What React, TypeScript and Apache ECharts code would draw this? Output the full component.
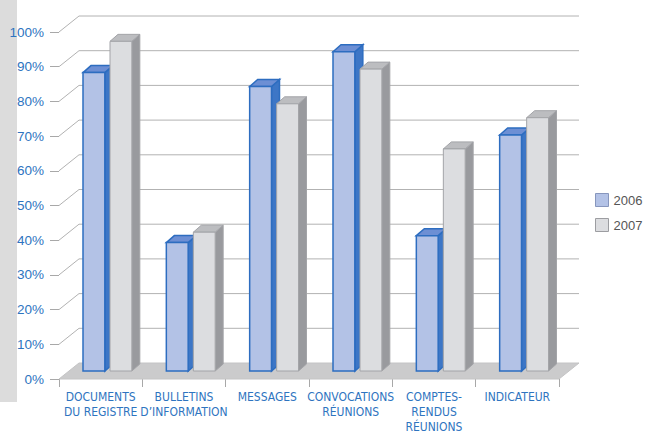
import React, { useEffect, useRef } from "react";
import * as echarts from "echarts";

const categories = [
  "DOCUMENTS\nDU REGISTRE",
  "BULLETINS\nD’INFORMATION",
  "MESSAGES",
  "CONVOCATIONS\nRÉUNIONS",
  "COMPTES-\nRENDUS\nRÉUNIONS",
  "INDICATEUR",
];
const values2006 = [86, 37, 82, 92, 39, 68];
const values2007 = [95, 40, 77, 87, 64, 73];
const yTicks = [0, 10, 20, 30, 40, 50, 60, 70, 80, 90, 100];

const BLUE_TEXT = "#2e74c0";

type BarColors = { front: string; top: string; side: string; stroke: string; lw: number };
const c2006: BarColors = { front: "#b3c2e6", top: "#6d8fd4", side: "#3d76c6", stroke: "#2d6dc0", lw: 1.5 };
const c2007: BarColors = { front: "#dcdde0", top: "#bcbdc0", side: "#999a9e", stroke: "#a3a4a8", lw: 1 };

function makeBar(name: string, data: number[], idx: number, col: BarColors) {
  return {
    type: "custom",
    name,
    z: 3 + idx,
    clip: false,
    itemStyle: { color: col.front, borderColor: col.stroke, borderWidth: 1 },
    encode: { x: 0, y: 1 },
    data: data.map((v, i) => [i, v]),
    renderItem: (params: any, api: any) => {
      const i = api.value(0);
      const v = api.value(1);
      const p0 = api.coord([i, 0]);
      const p1 = api.coord([i, v]);
      const band = api.size([1, 0])[0];
      const w = band * 0.262;
      const cx = p0[0];
      const L = cx + (idx === 0 ? -band * 0.212 : band * 0.112);
      const R = L + w;
      const B = p0[1] - 8;
      const T = p1[1] - 8;
      const dx = 8;
      const dy = -7;
      return {
        type: "group",
        children: [
          {
            type: "polygon",
            shape: { points: [[R, T], [R + dx, T + dy], [R + dx, B + dy], [R, B]] },
            style: { fill: col.side, stroke: col.stroke, lineWidth: col.lw },
          },
          {
            type: "polygon",
            shape: { points: [[L, T], [L + dx, T + dy], [R + dx, T + dy], [R, T]] },
            style: { fill: col.top, stroke: col.stroke, lineWidth: col.lw },
          },
          {
            type: "rect",
            shape: { x: L, y: T, width: w, height: B - T },
            style: { fill: col.front, stroke: col.stroke, lineWidth: col.lw },
          },
        ],
      };
    },
  };
}

export default function App() {
  const ref = useRef<HTMLDivElement>(null);
  useEffect(() => {
    if (!ref.current) return;
    const chart = echarts.init(ref.current, undefined, { renderer: "svg" });
    const option: any = {
      animation: false,
      backgroundColor: "#ffffff",
      grid: { left: 59, top: 32, width: 500, height: 350 },
      graphic: [
        {
          type: "rect",
          left: 0,
          top: 0,
          z: -10,
          shape: { width: 17, height: 402 },
          style: { fill: "#dcdcdc" },
        },
      ],
      legend: {
        orient: "vertical",
        left: 595,
        top: 193,
        padding: 0,
        itemWidth: 13,
        itemHeight: 13,
        itemGap: 11,
        textStyle: { color: "#555555", fontSize: 13, fontFamily: "Liberation Sans, Arial, sans-serif" },
        data: [
          { name: "2006", icon: "rect", itemStyle: { color: "#b3c2e6", borderColor: "#8796bd", borderWidth: 1 } },
          { name: "2007", icon: "rect", itemStyle: { color: "#dcdde0", borderColor: "#9c9da1", borderWidth: 1 } },
        ],
      },
      xAxis: {
        type: "category",
        data: categories,
        boundaryGap: true,
        axisLine: { show: false },
        axisTick: { show: true, length: 8, lineStyle: { color: "#a8a8a8" } },
        axisLabel: {
          interval: 0,
          margin: 10,
          color: BLUE_TEXT,
          fontSize: 12,
          lineHeight: 15,
          fontFamily: "DejaVu Sans Condensed, sans-serif",
        },
        splitLine: { show: false },
      },
      yAxis: {
        type: "value",
        min: 0,
        max: 100,
        interval: 10,
        axisLine: { show: false },
        axisTick: { show: true, length: 9, lineStyle: { color: "#a8a8a8" } },
        splitLine: { show: false },
        axisLabel: {
          formatter: "{value}%",
          color: BLUE_TEXT,
          fontSize: 13.5,
          margin: 15,
          fontFamily: "Liberation Sans, Arial, sans-serif",
        },
      },
      series: [
        {
          type: "custom",
          name: "grid3d",
          z: 1,
          clip: false,
          silent: true,
          encode: { x: 0, y: 1 },
          data: yTicks.map((v) => [0, v]),
          renderItem: (params: any, api: any) => {
            const cs = params.coordSys;
            const v = api.value(1);
            const y = api.coord([0, v])[1];
            const x0 = cs.x;
            const x1 = cs.x + cs.width;
            const dx = 20;
            const dy = -16;
            if (v === 0) {
              return {
                type: "polygon",
                shape: { points: [[x0, y], [x0 + dx, y + dy], [x1 + dx, y + dy], [x1, y]] },
                style: { fill: "#cbcbcc", stroke: "#c4c4c5", lineWidth: 1 },
              };
            }
            return {
              type: "polyline",
              shape: { points: [[x0, y], [x0 + dx, y + dy], [x1 + dx, y + dy]] },
              style: { fill: "none", stroke: "#b2b2b2", lineWidth: 1 },
            };
          },
        },
        makeBar("2006", values2006, 0, c2006),
        makeBar("2007", values2007, 1, c2007),
      ],
    };
    chart.setOption(option);
    return () => chart.dispose();
  }, []);
  return (
    <div
      ref={ref}
      style={{ position: "fixed", left: 0, top: 0, width: 649, height: 434, background: "#fff" }}
    />
  );
}
